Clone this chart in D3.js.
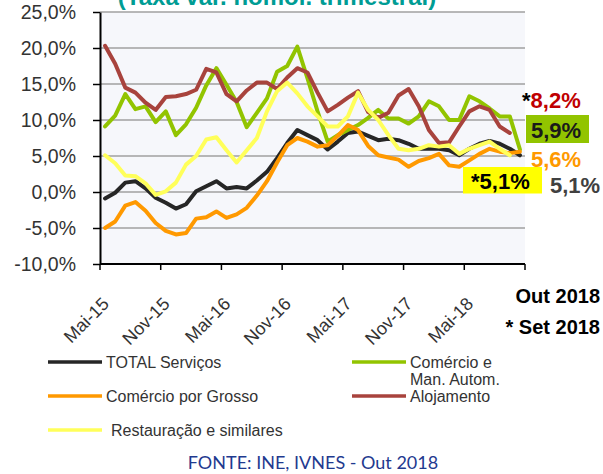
<!DOCTYPE html>
<html>
<head>
<meta charset="utf-8">
<script src="https://cdn.jsdelivr.net/npm/d3@7"></script>
<style>
  body { margin: 0; background: #fff; }
  svg { display: block; font-family: "Liberation Sans", Arial, sans-serif; }
</style>
</head>
<body>
<svg id="chart" width="603" height="474"></svg>
<script>
// months, Mai-15 .. Out-18
const months = [
  'Mai-15','Jun-15','Jul-15','Ago-15','Set-15','Out-15','Nov-15','Dez-15',
  'Jan-16','Fev-16','Mar-16','Abr-16','Mai-16','Jun-16','Jul-16','Ago-16','Set-16','Out-16','Nov-16','Dez-16',
  'Jan-17','Fev-17','Mar-17','Abr-17','Mai-17','Jun-17','Jul-17','Ago-17','Set-17','Out-17','Nov-17','Dez-17',
  'Jan-18','Fev-18','Mar-18','Abr-18','Mai-18','Jun-18','Jul-18','Ago-18','Set-18','Out-18'
];
const xLabels = ['Mai-15','Nov-15','Mai-16','Nov-16','Mai-17','Nov-17','Mai-18'];
const yTicks = [-10, -5, 0, 5, 10, 15, 20, 25];

const totalServicos = [-0.9, -0.1, 1.3, 1.5, 0.5, -0.8, -1.5, -2.3, -1.7, 0.1, 0.8, 1.5, 0.5, 0.7, 0.5, 1.6, 2.8, 4.7, 6.8, 8.6,
  7.9, 7.2, 5.9, 7.0, 8.2, 8.4, 7.8, 7.2, 7.4, 7.2, 6.7, 6.0, 6.0, 6.0, 5.8, 5.1, 6.0, 6.7, 7.1, 6.7, 6.0, 5.1];
const comercioAutom = [9.1, 10.6, 13.6, 11.5, 11.9, 9.7, 11.2, 7.9, 9.4, 11.7, 14.8, 17.2, 14.9, 12.5, 9.0, 11.0, 13.0, 16.7, 17.5, 20.2,
  15.8, 11.2, 7.0, 7.9, 8.6, 9.3, 10.3, 11.4, 10.2, 10.2, 9.5, 10.5, 12.6, 11.9, 10.0, 10.0, 13.3, 12.6, 11.6, 10.5, 10.5, 5.9];
const comercioGrosso = [-5.0, -4.1, -1.9, -1.4, -2.6, -4.3, -5.4, -5.9, -5.7, -3.7, -3.5, -2.7, -3.6, -3.1, -2.2, -0.5, 1.5, 4.1, 6.5, 7.5,
  7.0, 6.3, 6.5, 7.8, 9.3, 8.6, 6.4, 5.1, 4.8, 4.5, 3.5, 4.3, 4.7, 5.3, 3.7, 3.5, 4.4, 5.3, 6.0, 5.6, 5.4, 5.6];
const alojamento = [20.3, 17.8, 14.5, 13.8, 12.4, 11.4, 13.2, 13.3, 13.6, 14.2, 17.1, 16.6, 13.6, 12.6, 14.1, 15.2, 15.2, 14.3, 15.9, 17.2,
  16.6, 13.8, 11.2, 12.1, 13.1, 14.0, 11.1, 10.3, 11.0, 13.4, 14.3, 11.9, 8.6, 6.8, 6.9, 9.1, 11.2, 11.9, 11.4, 9.1, 8.2, null];
const restauracao = [5.1, 4.0, 2.3, 2.2, 1.2, -0.4, 0.1, 1.3, 3.8, 5.0, 7.3, 7.6, 5.8, 4.1, 5.8, 7.5, 11.2, 14.0, 15.2, 13.7,
  11.9, 10.5, 9.1, 9.1, 10.5, 13.8, 11.4, 10.0, 7.9, 6.0, 5.8, 6.0, 6.5, 6.3, 6.5, 5.3, 6.0, 6.5, 7.0, 6.0, 5.1, null];

const series = [
  { name: 'TOTAL Serviços', values: totalServicos, color: '#262626' },
  { name: 'Comércio e Man. Autom.', values: comercioAutom, color: '#92C400' },
  { name: 'Comércio por Grosso', values: comercioGrosso, color: '#FF9900' },
  { name: 'Alojamento', values: alojamento, color: '#A8433D' },
  { name: 'Restauração e similares', values: restauracao, color: '#FFFF5A' }
];

const fmt = v => v.toFixed(1).replace('.', ',') + '%';
const lastOf = arr => arr.filter(v => v != null).slice(-1)[0];

const svg = d3.select('#chart');
const plot = { left: 100, right: 525, top: 12, bottom: 264 };

const x = d3.scalePoint().domain(months).range([plot.left, plot.right]).padding(0.5);
const y = d3.scaleLinear().domain([-10, 25]).range([plot.bottom, plot.top]);
const step = x.step();

// title (cut off at top, as in the source picture)
svg.append('text')
  .attr('x', 277).attr('y', 5)
  .attr('text-anchor', 'middle')
  .style('font-size', '24px').style('font-weight', 'bold')
  .style('fill', '#009C94')
  .text('(Taxa var. homól. trimestral)');

// plot background
svg.append('rect')
  .attr('x', plot.left).attr('y', plot.top)
  .attr('width', plot.right - plot.left).attr('height', plot.bottom - plot.top)
  .attr('fill', '#F6F7FB');

// gridlines
svg.append('g').selectAll('line')
  .data(yTicks.filter(d => d > -10))
  .join('line')
  .attr('x1', plot.left).attr('x2', plot.right)
  .attr('y1', d => y(d)).attr('y2', d => y(d))
  .attr('stroke', '#A0A0A0').attr('stroke-width', 1.6);

// y axis
const yAxis = svg.append('g')
  .attr('transform', `translate(${plot.left},0)`)
  .call(d3.axisLeft(y).tickValues(yTicks).tickSizeInner(7).tickSizeOuter(0).tickPadding(17).tickFormat(fmt));
yAxis.select('.domain').attr('stroke', '#000').attr('stroke-width', 2);
yAxis.selectAll('.tick line').attr('stroke', '#000').attr('stroke-width', 1.5);
yAxis.selectAll('.tick text')
  .style('font-size', '19.5px').style('fill', '#333').style('font-family', '"Liberation Sans", Arial, sans-serif');

// x axis
const xAxis = svg.append('g');
xAxis.append('line')
  .attr('x1', plot.left).attr('x2', plot.right)
  .attr('y1', plot.bottom).attr('y2', plot.bottom)
  .attr('stroke', '#000').attr('stroke-width', 2);
xAxis.selectAll('.xtick')
  .data(d3.range(0, months.length + 1, 6))
  .join('line')
  .attr('class', 'xtick')
  .attr('x1', d => plot.left + d * step).attr('x2', d => plot.left + d * step)
  .attr('y1', plot.bottom).attr('y2', plot.bottom + 6)
  .attr('stroke', '#000').attr('stroke-width', 1.5);
xAxis.selectAll('.xlabel')
  .data(xLabels)
  .join('text')
  .attr('class', 'xlabel')
  .attr('text-anchor', 'end')
  .attr('transform', d => `translate(${x(d) + 5},${plot.bottom + 41}) rotate(-45)`)
  .style('font-size', '18px').style('fill', '#333')
  .text(d => d);

// lines
const line = d3.line()
  .defined(d => d != null)
  .x((d, i) => x(months[i]))
  .y(d => y(d));

svg.append('g').selectAll('path')
  .data(series)
  .join('path')
  .attr('d', d => line(d.values))
  .attr('fill', 'none')
  .attr('stroke', d => d.color)
  .attr('stroke-width', 4)
  .attr('stroke-linejoin', 'round')
  .attr('stroke-linecap', 'round');

// end labels
const ann = svg.append('g').style('font-weight', 'bold').style('font-size', '22px');

const t82 = ann.append('text').attr('x', 522).attr('y', 107.5);
t82.append('tspan').style('fill', '#000').text('*');
t82.append('tspan').style('fill', '#C00000').text(fmt(lastOf(alojamento)));

ann.append('rect').attr('x', 526).attr('y', 115).attr('width', 63).attr('height', 28).attr('fill', '#92C400');
ann.append('text').attr('x', 531).attr('y', 137.5).style('fill', '#1A1A1A').text(fmt(lastOf(comercioAutom)));

ann.append('text').attr('x', 531).attr('y', 166.5).style('fill', '#FF9900').text(fmt(lastOf(comercioGrosso)));

ann.append('rect').attr('x', 463).attr('y', 167).attr('width', 79).attr('height', 26.5).attr('fill', '#FFFF00');
ann.append('text').attr('x', 471).attr('y', 189).style('fill', '#000').text('*' + fmt(lastOf(restauracao)));

ann.append('text').attr('x', 550).attr('y', 192.5).style('fill', '#404040').text(fmt(lastOf(totalServicos)));

// reference dates
svg.append('text').attr('x', 600).attr('y', 303).attr('text-anchor', 'end')
  .style('font-size', '20px').style('font-weight', 'bold').style('fill', '#000').text('Out 2018');
svg.append('text').attr('x', 600).attr('y', 334).attr('text-anchor', 'end')
  .style('font-size', '20px').style('font-weight', 'bold').style('fill', '#000').text('* Set 2018');

// legend
const legendPos = [
  { x: 48, y: 362, tx: 106 },
  { x: 352, y: 362, tx: 410 },
  { x: 48, y: 396, tx: 106 },
  { x: 352, y: 396, tx: 410 },
  { x: 48, y: 430, tx: 111 }
];
const legend = svg.append('g').style('font-size', '16px').style('fill', '#333');
series.forEach((s, i) => {
  const p = legendPos[i];
  legend.append('line')
    .attr('x1', p.x).attr('x2', p.x + 54)
    .attr('y1', p.y).attr('y2', p.y)
    .attr('stroke', s.color).attr('stroke-width', 3.5);
  const t = legend.append('text').attr('x', p.tx).attr('y', p.y + 6);
  if (s.name === 'Comércio e Man. Autom.') {
    t.append('tspan').attr('x', p.tx).text('Comércio e');
    t.append('tspan').attr('x', p.tx).attr('dy', 17).text('Man. Autom.');
  } else {
    t.text(s.name);
  }
});

// source
svg.append('text').attr('x', 313).attr('y', 469).attr('text-anchor', 'middle')
  .style('font-family', 'Lato, "Open Sans", sans-serif').style('font-size', '18px').style('fill', '#1F3A8F')
  .text('FONTE: INE, IVNES - Out 2018');
</script>
</body>
</html>
